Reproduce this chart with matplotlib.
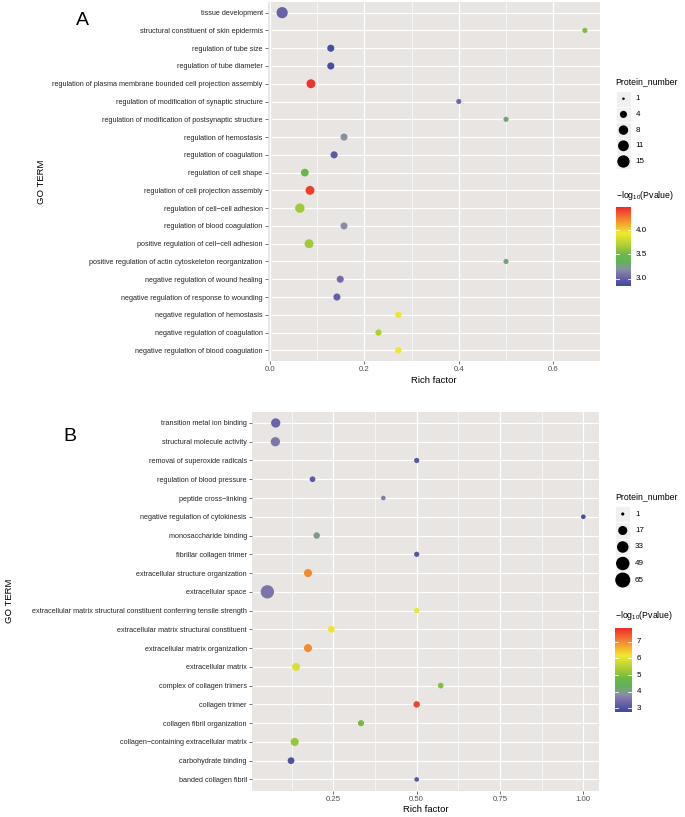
import matplotlib.pyplot as plt
import numpy as np
from matplotlib.colors import LinearSegmentedColormap, Normalize
from matplotlib.ticker import MultipleLocator
from matplotlib.patches import Rectangle

plt.rcParams['font.family'] = ['Liberation Sans', 'DejaVu Sans']

W, H = 685, 817

# ---- panel A data (top to bottom) ----
terms_a = ["tissue development",
           "structural constituent of skin epidermis",
           "regulation of tube size",
           "regulation of tube diameter",
           "regulation of plasma membrane bounded cell projection assembly",
           "regulation of modification of synaptic structure",
           "regulation of modification of postsynaptic structure",
           "regulation of hemostasis",
           "regulation of coagulation",
           "regulation of cell shape",
           "regulation of cell projection assembly",
           "regulation of cell\u2212cell adhesion",
           "regulation of blood coagulation",
           "positive regulation of cell\u2212cell adhesion",
           "positive regulation of actin cytoskeleton reorganization",
           "negative regulation of wound healing",
           "negative regulation of response to wounding",
           "negative regulation of hemostasis",
           "negative regulation of coagulation",
           "negative regulation of blood coagulation"]
rich_a = [0.026, 0.667, 0.129, 0.129, 0.087, 0.400, 0.500, 0.157, 0.136, 0.074,
          0.085, 0.0635, 0.157, 0.083, 0.500, 0.149, 0.142, 0.272, 0.230, 0.272]
count_a = [12, 2, 4, 4, 7, 2, 2, 4, 4, 5, 7, 8, 4, 7, 2, 4, 4, 3, 3, 3]
logp_a = [3.02, 3.55, 2.90, 2.90, 4.45, 3.06, 3.30, 3.20, 2.97, 3.47,
          4.42, 3.66, 3.20, 3.66, 3.30, 3.07, 3.00, 3.95, 3.70, 3.95]
size_breaks_a = [1, 4, 8, 11, 15]
color_ticks_a = [3.0, 3.5, 4.0]

# ---- panel B data (top to bottom) ----
terms_b = ["transition metal ion binding",
           "structural molecule activity",
           "removal of superoxide radicals",
           "regulation of blood pressure",
           "peptide cross\u2212linking",
           "negative regulation of cytokinesis",
           "monosaccharide binding",
           "fibrillar collagen trimer",
           "extracellular structure organization",
           "extracellular space",
           "extracellular matrix structural constituent conferring tensile strength",
           "extracellular matrix structural constituent",
           "extracellular matrix organization",
           "extracellular matrix",
           "complex of collagen trimers",
           "collagen trimer",
           "collagen fibril organization",
           "collagen\u2212containing extracellular matrix",
           "carbohydrate binding",
           "banded collagen fibril"]
rich_b = [0.077, 0.076, 0.500, 0.1875, 0.400, 1.000, 0.200, 0.500, 0.174, 0.052,
          0.500, 0.244, 0.174, 0.138, 0.572, 0.500, 0.333, 0.134, 0.123, 0.500]
count_b = [18, 18, 3, 4, 2, 2, 6, 3, 12, 48, 3, 7, 12, 12, 4, 6, 5, 12, 7, 2]
logp_b = [3.35, 3.60, 3.10, 3.15, 3.70, 2.95, 4.00, 3.10, 7.00, 3.55,
          6.10, 6.20, 7.00, 5.90, 5.00, 7.60, 4.90, 5.20, 3.00, 3.10]
size_breaks_b = [1, 17, 33, 49, 65]
color_ticks_b = [3, 4, 5, 6, 7]

cmap = LinearSegmentedColormap.from_list("go", [
    (0.00, '#3A4A9B'), (0.12, '#7366AD'), (0.21, '#8C8FA0'), (0.30, '#62B160'),
    (0.40, '#6DB843'), (0.53, '#B4D235'), (0.67, '#F1E92B'), (0.82, '#F6932D'),
    (1.00, '#EC2B2E')])


def dot_s(v, vmin, vmax, k):
    # ggplot-like area scale -> diameter in px -> matplotlib s (pt^2)
    v = np.asarray(v, dtype=float)
    size = 1 + 5 * np.sqrt((v - vmin) / (vmax - vmin))
    d_px = k * (2.845 * size + 0.945)
    return (d_px * 0.72) ** 2


fig = plt.figure(figsize=(W / 100, H / 100), dpi=100)


def panel(box, terms, rich, count, logp, xlim, major, minor, fmt, cnorm, vmin, vmax, k):
    x0, y0, x1, y1 = box
    ax = fig.add_axes([x0 / W, 1 - y1 / H, (x1 - x0) / W, (y1 - y0) / H])
    n = len(terms)
    ypos = np.arange(n)[::-1]
    ax.set_facecolor('#E8E5E3')
    ax.scatter(rich, ypos, s=dot_s(count, vmin, vmax, k), c=logp, cmap=cmap,
               norm=cnorm, linewidths=0, zorder=3, clip_on=False)
    ax.set_xlim(*xlim)
    ax.set_ylim(-0.6, n - 0.4)
    ax.set_yticks(ypos)
    ax.set_yticklabels(terms, fontsize=5.2, color='#262626')
    ax.xaxis.set_major_locator(MultipleLocator(major))
    ax.xaxis.set_minor_locator(MultipleLocator(minor))
    ax.xaxis.set_major_formatter(fmt)
    ax.tick_params(axis='x', labelsize=5.6, labelcolor='#4D4D4D')
    ax.tick_params(which='major', length=2, width=0.5, color='#333333', pad=1.5)
    ax.tick_params(which='minor', length=0)
    ax.grid(which='major', color='white', lw=0.9, zorder=0)
    ax.grid(which='minor', axis='x', color='white', lw=0.45, zorder=0)
    ax.set_axisbelow(True)
    for sp in ax.spines.values():
        sp.set_visible(False)
    ax.set_xlabel("Rich factor", fontsize=6.8, labelpad=2)
    return ax


norm_a = Normalize(2.86, 4.48)
norm_b = Normalize(2.80, 7.84)

ax_a = panel((267.5, 2, 600, 361), terms_a, rich_a, count_a, logp_a, (-0.005, 0.699),
             0.2, 0.1, '{x:.1f}', norm_a, 1, 15, 0.683)
ax_b = panel((251.7, 411.7, 599, 790.7), terms_b, rich_b, count_b, logp_b, (0.005, 1.047),
             0.25, 0.125, '{x:.2f}', norm_b, 1, 65, 0.833)

# overlay in pixel coordinates for legends, axis titles and panel letters
ov = fig.add_axes([0, 0, 1, 1])
ov.axis('off')

ov.text(82, 20, "A", fontsize=14, ha='center', va='center')
ov.text(70, 436, "B", fontsize=14, ha='center', va='center')
ov.text(41.7, 181.5, "GO TERM", fontsize=6.8, rotation=90, ha='center', va='center')
ov.text(10, 601, "GO TERM", fontsize=6.8, rotation=90, ha='center', va='center')


def legends(xl, title_y, key_ys, breaks, vmin, vmax, k, cb_title_y, cb_top, cb_bot, cb_w,
            cnorm, ticks):
    ov.text(xl, title_y, "Protein_number", fontsize=6.3, ha='left', va='center')
    kh = key_ys[1] - key_ys[0]
    for yk, b in zip(key_ys, breaks):
        ov.add_patch(Rectangle((xl, yk - kh / 2), 15.5, kh, facecolor='#F0F0F0',
                               edgecolor='white', lw=0.6))
        ov.text(xl + 20, yk, str(b), fontsize=5.8, ha='left', va='center')
    ov.scatter([xl + 7.75] * len(breaks), key_ys, s=dot_s(breaks, vmin, vmax, k),
               c='black', linewidths=0, zorder=3)
    ov.text(xl, cb_title_y, r'$\mathregular{-log_{10}(Pvalue)}$', fontsize=6.3,
            ha='left', va='center')
    grad = np.linspace(0, 1, 256).reshape(-1, 1)
    ov.imshow(grad, cmap=cmap, aspect='auto', origin='lower',
              extent=[xl, xl + cb_w, cb_bot, cb_top], zorder=2)
    for t in ticks:
        f = cnorm(t)
        yt = cb_bot - f * (cb_bot - cb_top)
        ov.plot([xl, xl + cb_w * 0.2], [yt, yt], color='white', lw=0.6, zorder=3)
        ov.plot([xl + cb_w * 0.8, xl + cb_w], [yt, yt], color='white', lw=0.6, zorder=3)
        lab = f'{t:.1f}' if isinstance(t, float) else str(t)
        ov.text(xl + cb_w + 5, yt, lab, fontsize=5.8, ha='left', va='center')


legends(615.7, 82, [98.7, 114.4, 130.1, 145.8, 161.5], size_breaks_a, 1, 15, 0.683,
        195.7, 206.7, 285.7, 15, norm_a, color_ticks_a)
legends(615, 496.7, [514, 530.5, 547, 563.5, 580], size_breaks_b, 1, 65, 0.833,
        616, 627.7, 711.7, 16.5, norm_b, color_ticks_b)
ov.set_xlim(0, W)
ov.set_ylim(H, 0)

fig.savefig("out.png", dpi=100)
